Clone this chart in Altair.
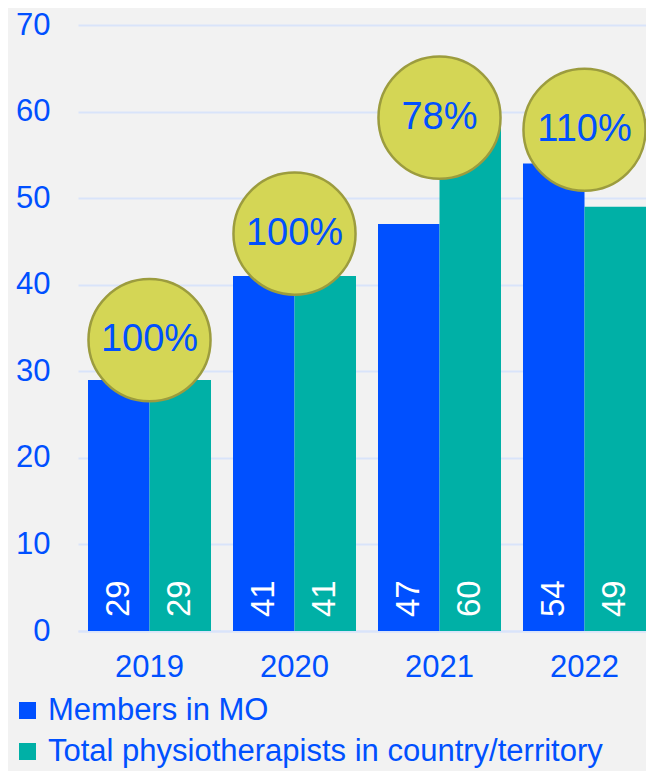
import altair as alt
import pandas as pd

years = ["2019", "2020", "2021", "2022"]
series = ["Members in MO", "Total physiotherapists in country/territory"]
members = [29, 41, 47, 54]
total = [29, 41, 60, 49]
ratio_labels = ["100%", "100%", "78%", "110%"]
bubble_y = [33.6, 45.9, 59.3, 57.9]

BLUE = "#0050FF"
TEAL = "#00B0A6"
FONT = "Liberation Sans"

bars_df = pd.DataFrame({
    "year": years * 2,
    "series": [series[0]] * 4 + [series[1]] * 4,
    "value": members + total,
})
bub_df = pd.DataFrame({"year": years, "label": ratio_labels, "y": bubble_y})

xenc = alt.X("year:N", title=None,
             scale=alt.Scale(paddingInner=0.1517, paddingOuter=0.0345, align=1),
             axis=alt.Axis(labelAngle=0, labelFontSize=31, labelColor=BLUE, labelFont=FONT,
                           ticks=False, labelPadding=21, domain=True, domainColor="#D9E4FA",
                           domainWidth=2, grid=False))
yenc = alt.Y("value:Q", title=None,
             scale=alt.Scale(domain=[0, 70], nice=False),
             axis=alt.Axis(values=[0, 10, 20, 30, 40, 50, 60, 70], labelFontSize=31, labelColor=BLUE,
                           labelFont=FONT, ticks=False, domain=False, labelPadding=28,
                           grid=True, gridColor="#D9E4FA", gridWidth=2))

bars = alt.Chart(bars_df).mark_bar().encode(
    x=xenc,
    xOffset=alt.XOffset("series:N", sort=series),
    y=yenc,
    color=alt.Color("series:N", sort=series,
                    scale=alt.Scale(domain=series, range=[BLUE, TEAL]),
                    legend=alt.Legend(title=None, orient="none", legendX=-66, legendY=670,
                                      symbolType="square", symbolSize=289, symbolStrokeWidth=0,
                                      labelFontSize=31, labelColor=BLUE, labelFont=FONT,
                                      labelLimit=1000, rowPadding=9, labelOffset=5)),
)

bar_labels = alt.Chart(bars_df).mark_text(
    angle=270, align="left", baseline="middle", dx=14, fontSize=33, color="white", font=FONT
).encode(
    x=alt.X("year:N"),
    xOffset=alt.XOffset("series:N", sort=series),
    y=alt.datum(0),
    text=alt.Text("value:Q"),
)

bubbles = alt.Chart(bub_df).mark_point(
    shape="circle", filled=True, size=14900, fill="#D4D655", stroke="#9C9C3E",
    strokeWidth=2.5, opacity=1
).encode(
    x=alt.X("year:N"),
    y=alt.Y("y:Q"),
)

bubble_text = alt.Chart(bub_df).mark_text(
    fontSize=38, color=BLUE, font=FONT, baseline="middle", align="center"
).encode(
    x=alt.X("year:N"),
    y=alt.Y("y:Q"),
    text="label:N",
)

chart = alt.layer(bars, bar_labels, bubbles, bubble_text).properties(
    width=568, height=606, background="#F2F2F2",
    autosize=alt.AutoSizeParams(type="none"),
    padding={"left": 70, "top": 17, "right": 0, "bottom": 140},
).configure_view(stroke=None)

chart.save("out.html", embed_options={"renderer": "svg", "actions": False})
